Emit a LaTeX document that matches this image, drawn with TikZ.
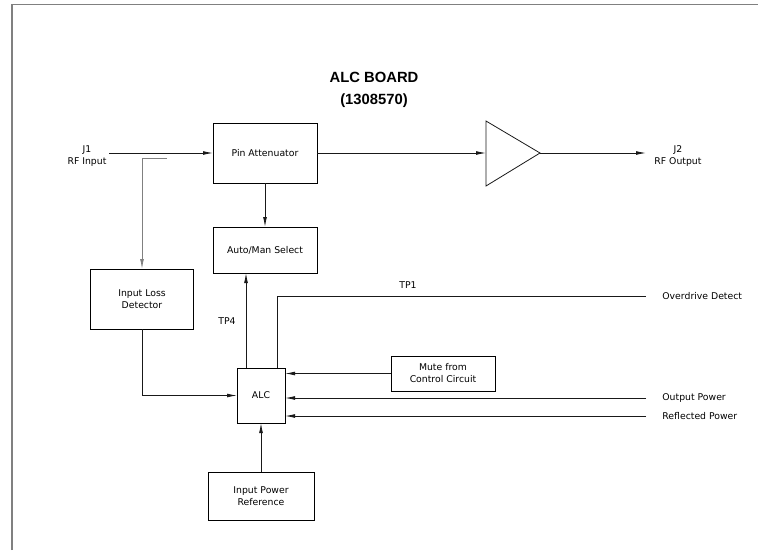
\documentclass[tikz,border=0pt]{standalone}
\usepackage{fontspec}
\setmainfont{DejaVu Sans}
\newfontfamily\titlefont{Liberation Sans}
\usetikzlibrary{arrows.meta}
\begin{document}
\begin{tikzpicture}[x=1pt,y=-1pt,line width=0.8pt,
		font=\fontsize{9.3}{12}\selectfont,
		blk/.style={draw,inner sep=0pt,outer sep=0pt,align=center,minimum width=104pt},
		arr/.style={-{Latex[length=10pt,width=3.8pt]}},
		lbl/.style={anchor=west,inner sep=0pt}]
			\colorlet{Ink}{black!90}
			\useasboundingbox (0,0) rectangle (758,550);
			\draw[gray,line width=1.3pt] (12,550) -- (12,4.5) -- (758,4.5);
			\node[font=\titlefont\bfseries\fontsize{14.8}{22}\selectfont,align=center] (title) at (374,90) {ALC BOARD\\(1308570)};
			\node[blk,minimum height=60pt] (pin) at (265,153) {Pin Attenuator};
			\node[blk,minimum height=46pt] (automan) at (265,250) {Auto/Man Select};
			\node[blk,minimum height=60pt,minimum width=103pt] (loss) at (142,299) {Input Loss\\Detector};
			\node[blk,minimum height=55pt,minimum width=48pt] (alc) at (261,395.5) {ALC};
			\node[blk,minimum height=35pt] (mute) at (443,373.5) {Mute from\\Control Circuit};
			\node[blk,minimum height=48pt,minimum width=106pt] (ipr) at (261,496) {Input Power\\Reference};
			\node[align=center] (jin) at (87,156) {J1\\RF Input};
			\node[align=center] (jout) at (678,156) {J2\\RF Output};
			\node[lbl] (odet) at (662,296) {Overdrive Detect};
			\node[lbl] (opow) at (662,398) {Output Power};
			\node[lbl] (rpow) at (662,416) {Reflected Power};
			\node (tpone) at (408,285) {TP1};
			\node (tpfour) at (227,321) {TP4};
			\coordinate (rfin) at (109,153);
			\coordinate (tap) at (167,158);
			\coordinate (ampin) at (486,153);
			\coordinate (ampout) at (540,153);
			\coordinate (rfout) at (646,153);
			\draw[Ink] (486,121) -- (ampout) -- (486,186) -- cycle;
			\draw[Ink,arr] (rfin) -- (pin.west);
			\draw[Ink,arr] (pin.east) -- (ampin);
			\draw[Ink,arr] (ampout) -- (rfout);
			\draw[gray,arr] (tap) -| (loss.north);
			\draw[Ink,arr] (pin.south) -- (automan.north);
			\draw[Ink,arr] (loss.south) |- (alc.west);
			\draw[Ink,arr] ([xshift=9pt]alc.north west) -- ([xshift=9pt]alc.north west |- automan.south);
			\draw[Ink] ([xshift=-8pt]alc.north east) |- ([xshift=-16pt]odet.west);
			\draw[Ink,arr] (mute.west) -- (alc.east |- mute.west);
			\draw[Ink,arr] ([xshift=-16pt]opow.west) -- (alc.east |- opow.west);
			\draw[Ink,arr] ([xshift=-16pt]rpow.west) -- (alc.east |- rpow.west);
			\draw[Ink,arr] (ipr.north) -- (alc.south);
		\end{tikzpicture}
\end{document}
